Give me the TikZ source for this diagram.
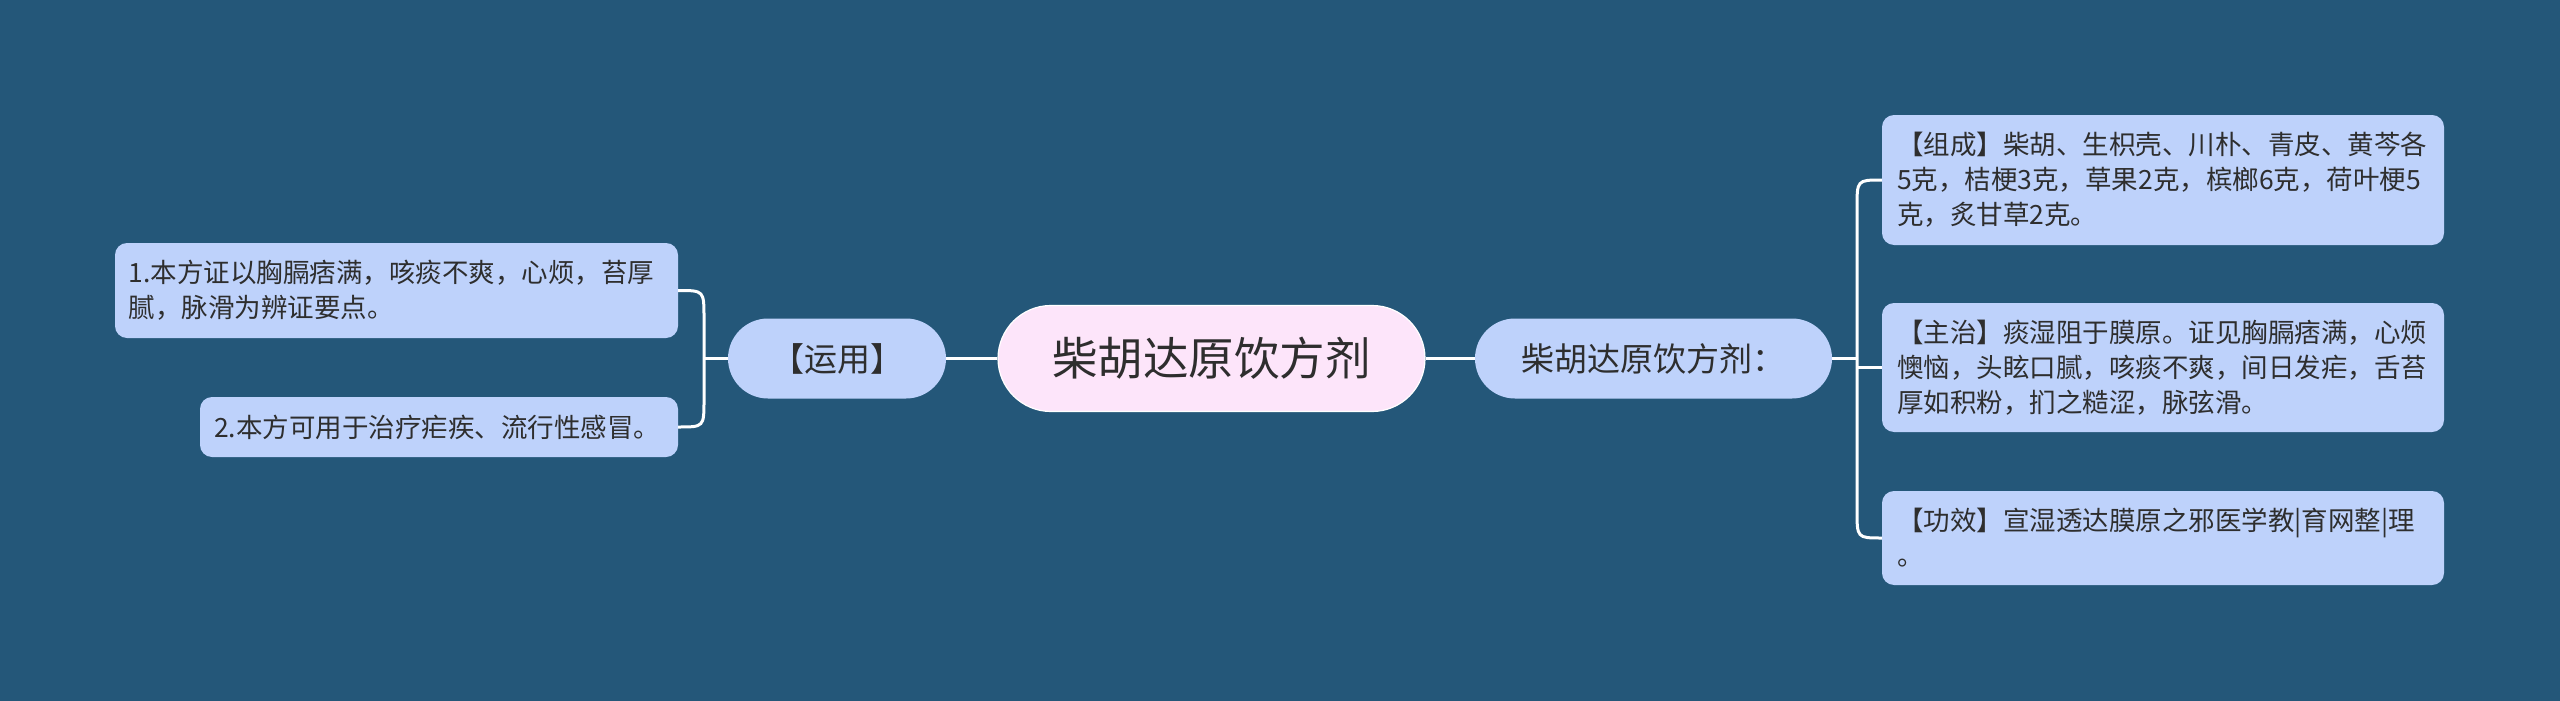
\documentclass[tikz,border=0pt]{standalone}
\usepackage{fontspec}
\newfontfamily\cjk{Noto Sans CJK SC}
\definecolor{bg}{HTML}{245779}
\definecolor{nodefill}{HTML}{BED2FB}
\definecolor{rootfill}{HTML}{FDE5FA}
\definecolor{txt}{HTML}{2E2E2E}
\tikzset{
  leafbox/.style n args={3}{fill=nodefill, rounded corners=12pt, inner sep=0pt,
    minimum width=#1, minimum height=#2, text width=#3, align=left, text=txt,
    font=\cjk\fontsize{26.5pt}{35pt}\selectfont},
  pill/.style n args={2}{fill=nodefill, rounded corners=40pt, inner sep=0pt,
    minimum width=#1, minimum height=#2, align=center, text=txt,
    font=\cjk\fontsize{33pt}{40pt}\selectfont},
  rootbox/.style={fill=rootfill, draw=white, line width=1.2pt, rounded corners=53pt, inner sep=0pt,
    minimum width=427pt, minimum height=106pt, align=center, text=txt,
    font=\cjk\fontsize{45.5pt}{50pt}\selectfont},
  link/.style={draw=white, line width=3pt}
}
\begin{document}
\begin{tikzpicture}[x=1pt,y=-1pt]
\fill[bg] (0,0) rectangle (2560,701);
\useasboundingbox (0,0) rectangle (2560,701);

% root
\node[rootbox] (root) at (1211.5,358.5) {柴胡达原饮方剂};
% left branch
\node[pill={218pt}{80pt}] (yy) at (837,358.5) {【运用】};
\node[leafbox={563pt}{95pt}{536pt}] (l1) at (396.5,290.5)
  {1.本方证以胸膈痞满，咳痰不爽，心烦，苔厚\\腻，脉滑为辨证要点。};
\node[leafbox={478pt}{60pt}{450pt}] (l2) at (439,427)
  {2.本方可用于治疗疟疾、流行性感冒。};
% right branch
\node[pill={357pt}{80pt}] (rn) at (1653.5,358.5) {柴胡达原饮方剂：};
\node[leafbox={562pt}{130pt}{532pt}] (r1) at (2163,180)
  {【组成】柴胡、生枳壳、川朴、青皮、黄芩各\\5克，桔梗3克，草果2克，槟榔6克，荷叶梗5\\克，炙甘草2克。};
\node[leafbox={562pt}{129pt}{532pt}] (r2) at (2163,367.5)
  {【主治】痰湿阻于膜原。证见胸膈痞满，心烦\\懊恼，头眩口腻，咳痰不爽，间日发疟，舌苔\\厚如积粉，扪之糙涩，脉弦滑。};
\node[leafbox={562pt}{94pt}{532pt}] (r3) at (2163,538)
  {【功效】宣湿透达膜原之邪医学教|育网整|理\\。};

% junction coordinates
\coordinate (lj) at (704,358.5);
\coordinate (rj) at (1857,358.5);

% connectors
\draw[link] (root.west) -- (yy.east);
\draw[link] (root.east) -- (rn.west);
\draw[link] (yy.west) -- (lj);
\draw[link] (l1.east) .. controls (704,290.5) .. (704,318) -- (704,400) .. controls (704,427) .. (l2.east);
\draw[link] (rn.east) -- (rj);
\draw[link] (r1.west) .. controls (1857,180) .. (1857,208) -- (1857,510) .. controls (1857,538) .. (r3.west);
\draw[link] (1857,367.5) -- (r2.west);
\end{tikzpicture}
\end{document}
